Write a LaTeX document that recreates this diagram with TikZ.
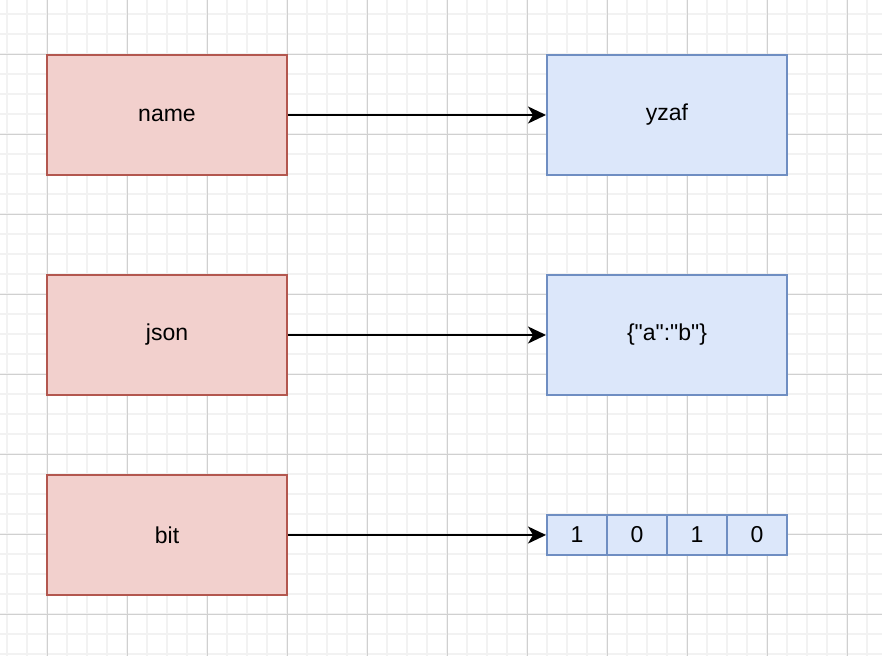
\documentclass[tikz,border=0pt]{standalone}
\usepackage{fontspec}
\setmainfont{Liberation Sans}[Ligatures=TeXOff]
\usetikzlibrary{arrows.meta}
\definecolor{keyfill}{HTML}{F2D0CD}
\definecolor{keyline}{HTML}{B3574F}
\definecolor{valfill}{HTML}{DCE7FA}
\definecolor{valline}{HTML}{6F8EC2}
\definecolor{minorgrid}{HTML}{F2F2F2}
\definecolor{majorgrid}{HTML}{D0D0D0}
\tikzset{
    keybox/.style={draw=keyline, fill=keyfill, line width=2pt, minimum width=240pt, minimum height=120pt, font=\fontsize{23}{27}\selectfont},
    valbox/.style={draw=valline, fill=valfill, line width=2pt, minimum width=240pt, minimum height=120pt, font=\fontsize{23}{27}\selectfont},
    bitcell/.style={draw=valline, fill=valfill, line width=2pt, minimum width=60pt, minimum height=40pt, font=\fontsize{23}{27}\selectfont},
    link/.style={-{Stealth[length=18pt, width=17pt, inset=5pt]}, line width=2pt}
}
\begin{document}
\begin{tikzpicture}[x=1pt, y=-1pt]
        \useasboundingbox (0,0) rectangle (882,656);
        \fill[white] (0,0) rectangle (882,656);

        \foreach \x in {7,27,...,882} \draw[minorgrid, line width=2pt] (\x,0) -- (\x,656);
        \foreach \y in {14,34,...,656} \draw[minorgrid, line width=2pt] (0,\y) -- (882,\y);
        \foreach \x in {47,127,...,882} \draw[majorgrid, line width=1pt] (\x,0) -- (\x,656);
        \foreach \y in {54,134,...,656} \draw[majorgrid, line width=1pt] (0,\y) -- (882,\y);

        \node[keybox] (name) at (167,115) {name};
        \node[keybox] (json) at (167,335) {json};
        \node[keybox] (bit) at (167,535) {bit};

        \node[valbox] (yzaf) at (667,115) {yzaf};
        \node[valbox] (obj) at (667,335) {\{"a":"b"\}};

        \node[bitcell] (b1) at (577,535) {1};
        \node[bitcell] (b2) at (637,535) {0};
        \node[bitcell] (b3) at (697,535) {1};
        \node[bitcell] (b4) at (757,535) {0};

        \draw[link] (name.east) -- (yzaf.west);
        \draw[link] (json.east) -- (obj.west);
        \draw[link] (bit.east) -- (b1.west);
    \end{tikzpicture}
\end{document}
